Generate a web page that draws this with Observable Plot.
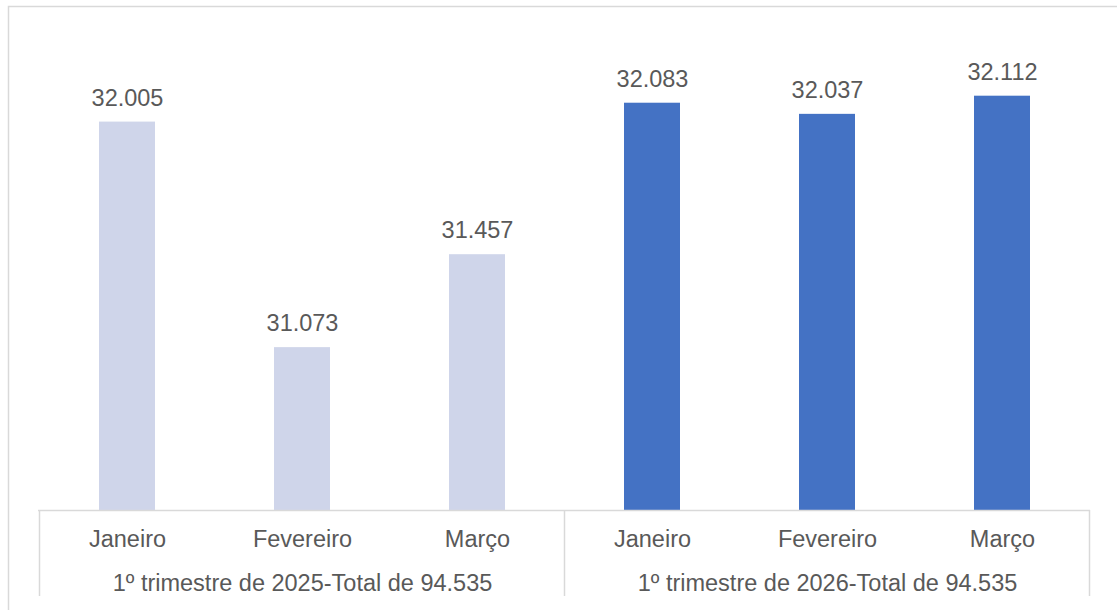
<!DOCTYPE html>
<html>
<head>
<meta charset="utf-8">
<script src="https://cdn.jsdelivr.net/npm/d3@7"></script>
<script src="https://cdn.jsdelivr.net/npm/@observablehq/plot@0.6"></script>
<style>
  html, body { margin: 0; padding: 0; background: #fff; overflow: hidden; }
  #chart svg { display: block; font-family: "Liberation Sans", Arial, sans-serif; }
</style>
</head>
<body>
<div id="chart"></div>
<script>
// ---- data ----
const months = ["Janeiro", "Fevereiro", "Março"];
const groups = ["1º trimestre de 2025-Total de 94.535", "1º trimestre de 2026-Total de 94.535"];
const values2025 = [32005, 31073, 31457];
const values2026 = [32083, 32037, 32112];
const groupColors = ["#CFD5EA", "#4472C4"];
const yDomain = [30400, 32400];

const seriesValues = [values2025, values2026];
const rows = [];
groups.forEach((g, gi) => months.forEach((m, mi) => rows.push({
  key: g + "|" + m, group: g, month: m, value: seriesValues[gi][mi], color: groupColors[gi]
})));
const groupLabels = groups.map(g => ({key: g + "|" + months[1], label: g}));

const ptBR = d3.formatLocale({decimal: ",", thousands: ".", grouping: [3], currency: ["R$", ""]});
const fmt = ptBR.format(",");
const textColor = "#595959";
const lineColor = "#D9D9D9";

const chart = Plot.plot({
  width: 1117,
  height: 610,
  marginTop: 26,
  marginRight: 27,
  marginBottom: 100,
  marginLeft: 38,
  style: {fontFamily: "'Liberation Sans', Arial, sans-serif", background: "#fff"},
  x: {domain: rows.map(d => d.key), paddingInner: 0.68, paddingOuter: 0.34, axis: null},
  y: {domain: yDomain, axis: null},
  marks: [
    Plot.barY(rows, {x: "key", y1: yDomain[0], y2: "value", fill: "color"}),
    Plot.text(rows, {x: "key", y: "value", text: d => fmt(d.value), dy: -24, lineAnchor: "middle",
      fontSize: 23.5, fill: textColor}),
    Plot.ruleY([yDomain[0]], {stroke: lineColor, strokeWidth: 1.5}),
    Plot.text(rows, {x: "key", y: () => yDomain[0], text: "month", dy: 29, lineAnchor: "middle",
      fontSize: 23.5, fill: textColor}),
    Plot.text(groupLabels, {x: "key", y: () => yDomain[0], text: "label", dy: 73, lineAnchor: "middle",
      fontSize: 23.5, fill: textColor})
  ]
});

// group box separators computed from the x scale
const xs = chart.scale("x");
const ys = chart.scale("y");
const yBase = ys.apply(yDomain[0]);
const half = (xs.step - xs.bandwidth) / 2;
const boundaries = [];
groups.forEach((g, gi) => {
  boundaries.push(xs.apply(g + "|" + months[0]) - half);
});
boundaries.push(xs.apply(groups[groups.length - 1] + "|" + months[months.length - 1]) + xs.bandwidth + half);
const svg = d3.select(chart);
svg.selectAll("line.sep").data(boundaries).join("line")
  .attr("class", "sep")
  .attr("x1", d => d).attr("x2", d => d)
  .attr("y1", yBase).attr("y2", yBase + 86)
  .attr("stroke", lineColor).attr("stroke-width", 1.5);
// outer chart frame
svg.append("path")
  .attr("d", "M8.5,700V6.5H1200")
  .attr("fill", "none").attr("stroke", lineColor).attr("stroke-width", 1.5);

document.getElementById("chart").append(chart);
</script>
</body>
</html>
